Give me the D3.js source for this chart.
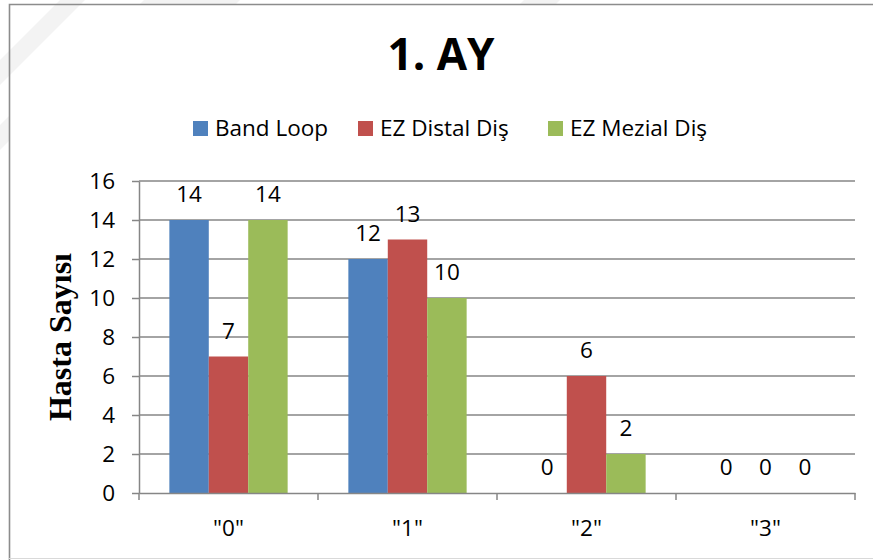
<!DOCTYPE html>
<html>
<head>
<meta charset="utf-8">
<script src="https://cdn.jsdelivr.net/npm/d3@7"></script>
<style>
  html, body { margin: 0; padding: 0; background: #fff; }
  svg { display: block; }
</style>
</head>
<body>
<div id="chart"></div>
<script>
// Monthly distribution of patients by score, per appliance group
const categories = ['"0"', '"1"', '"2"', '"3"'];
const seriesNames = ["Band Loop", "EZ Distal Diş", "EZ Mezial Diş"];
const bandLoop = [14, 12, 0, 0];
const ezDistal = [7, 13, 6, 0];
const ezMezial = [14, 10, 2, 0];
const yTicks = [0, 2, 4, 6, 8, 10, 12, 14, 16];
const colors = ["#4f81bd", "#c0504d", "#9bbb59"];

const W = 873, H = 560;
const font = "'Open Sans', Lato, sans-serif";
const fs = 22.5;
const svg = d3.select("#chart").append("svg").attr("width", W).attr("height", H);

// faint diagonal bands in the page background
const bg = svg.append("g").attr("fill", "#f3f3f3");
bg.append("polygon").attr("points", "0,60 60,0 85,0 0,85");
bg.append("polygon").attr("points", "0,150 0,125 9,116 9,141");
bg.append("polygon").attr("points", "140,4 144,0 240,0 236,4");
bg.append("polygon").attr("points", "520,4 524,0 560,0 556,4");

// chart frame
svg.append("path")
  .attr("d", `M9.5,${H} V4.5 H${W}`)
  .attr("fill", "none").attr("stroke", "#8c8c8c").attr("stroke-width", 1.6);
svg.append("line").attr("x1", 9).attr("x2", W).attr("y1", 558.5).attr("y2", 558.5)
  .attr("stroke", "#d9d9d9").attr("stroke-width", 1);

const plot = { left: 139, right: 855, top: 181, bottom: 493 };

const x0 = d3.scaleBand().domain(categories).range([plot.left, plot.right]).paddingInner(0).paddingOuter(0);
const x1 = d3.scaleBand().domain(seriesNames).range([0, x0.bandwidth()]).paddingInner(0).paddingOuter(0.77);
const y = d3.scaleLinear().domain([0, 16]).range([plot.bottom, plot.top]);

// gridlines
svg.append("g").selectAll("line").data(yTicks.filter(d => d > 0)).join("line")
  .attr("x1", plot.left).attr("x2", plot.right)
  .attr("y1", d => y(d)).attr("y2", d => y(d))
  .attr("stroke", "#868686").attr("stroke-width", 1.5);

// bars
const series = [bandLoop, ezDistal, ezMezial];
const groups = svg.append("g").selectAll("g").data(categories).join("g")
  .attr("transform", c => `translate(${x0(c)},0)`);
groups.selectAll("rect")
  .data((c, i) => seriesNames.map((s, k) => ({ s, k, v: series[k][i] })))
  .join("rect")
  .attr("x", d => x1(d.s)).attr("width", x1.bandwidth())
  .attr("y", d => y(d.v)).attr("height", d => y(0) - y(d.v))
  .attr("fill", d => colors[d.k]);

// value labels
groups.selectAll("text")
  .data((c, i) => seriesNames.map((s, k) => ({ s, k, v: series[k][i] })))
  .join("text")
  .attr("x", d => x1(d.s) + x1.bandwidth() / 2)
  .attr("y", d => y(d.v) - 18)
  .attr("text-anchor", "middle")
  .attr("font-family", font).attr("font-size", fs).attr("fill", "#000")
  .text(d => d.v);

// y axis
const yAxis = svg.append("g").attr("transform", `translate(${plot.left},0)`)
  .call(d3.axisLeft(y).tickValues(yTicks).tickSize(7).tickPadding(17).tickSizeOuter(0));
yAxis.select(".domain").attr("stroke", "#868686").attr("stroke-width", 1.5);
yAxis.selectAll(".tick line").attr("stroke", "#868686").attr("stroke-width", 1.5);
yAxis.selectAll(".tick text").attr("font-family", font).attr("font-size", fs).attr("fill", "#000");

// x axis
const xAxis = svg.append("g").attr("transform", `translate(0,${plot.bottom})`)
  .call(d3.axisBottom(x0).tickSize(0).tickPadding(27));
xAxis.select(".domain").attr("stroke", "#868686").attr("stroke-width", 1.5);
xAxis.selectAll(".tick text").attr("font-family", font).attr("font-size", fs).attr("fill", "#000");
const bounds = categories.map(c => x0(c)).concat([plot.right]);
xAxis.append("g").selectAll("line").data(bounds).join("line")
  .attr("x1", d => d).attr("x2", d => d).attr("y1", 0).attr("y2", 7)
  .attr("stroke", "#868686").attr("stroke-width", 1.5);

// title
svg.append("text").attr("x", 441).attr("y", 70).attr("text-anchor", "middle")
  .attr("font-family", font).attr("font-weight", "bold").attr("font-size", 44)
  .text("1. AY");

// y axis title
svg.append("text")
  .attr("transform", `translate(71,${(plot.top + plot.bottom) / 2}) rotate(-90)`)
  .attr("text-anchor", "middle")
  .attr("font-family", "'Liberation Serif', 'Times New Roman', serif")
  .attr("font-weight", "bold").attr("font-size", 32)
  .text("Hasta Sayısı");

// legend
const legendX = [193, 358, 548];
const legend = svg.append("g").selectAll("g").data(seriesNames).join("g")
  .attr("transform", (d, i) => `translate(${legendX[i]},121)`);
legend.append("rect").attr("width", 15).attr("height", 15).attr("fill", (d, i) => colors[i]);
legend.append("text").attr("x", 22).attr("y", 15)
  .attr("font-family", font).attr("font-size", fs).attr("fill", "#000")
  .text(d => d);
</script>
</body>
</html>
